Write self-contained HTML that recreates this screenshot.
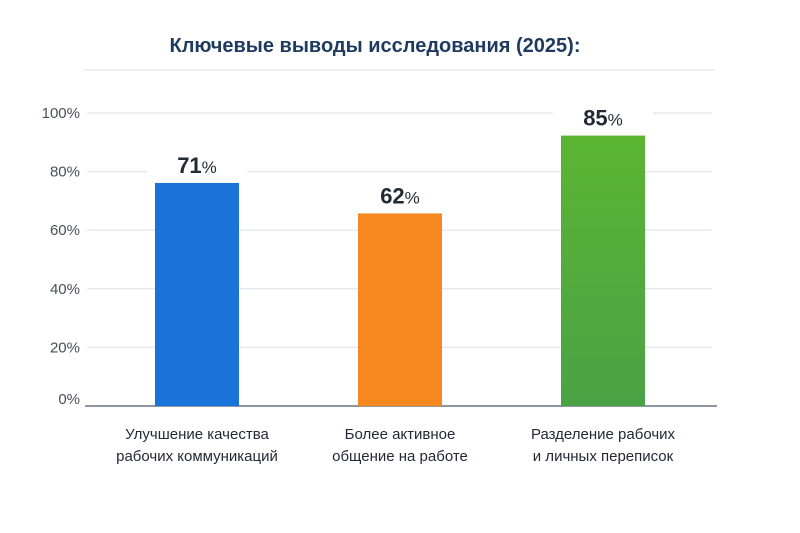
<!DOCTYPE html>
<html><head><meta charset="utf-8"><style>
body{margin:0;background:#fff;}
svg{display:block;font-family:"Liberation Sans","DejaVu Sans",sans-serif;}
</style></head><body>
<svg width="800" height="533" viewBox="0 0 800 533">
<defs><linearGradient id="gG" x1="0" y1="0" x2="0" y2="1"><stop offset="0" stop-color="#5bb532"/><stop offset="1" stop-color="#4aa245"/></linearGradient></defs>
<rect width="800" height="533" fill="#fff"/>
<text x="375" y="52" text-anchor="middle" font-size="20" font-weight="bold" fill="#1f3a5f">Ключевые выводы исследования (2025):</text>
<line x1="83" y1="70" x2="715" y2="70" stroke="#e8ebef" stroke-width="1.5"/>
<g id="grid"></g><g id="bars"></g><g id="labels"></g>
</svg>
<script>
const categories = [["Улучшение качества","рабочих коммуникаций"],["Более активное","общение на работе"],["Разделение рабочих","и личных переписок"]];
const values = [71, 62, 85];
const tickValues = [0, 20, 40, 60, 80, 100];
const tickLabels = ["0%","20%","40%","60%","80%","100%"];
const colors = ["#1a73d9","#f7871f","url(#gG)"];
const NS="http://www.w3.org/2000/svg";
function mk(t,a,p){const e=document.createElementNS(NS,t);for(const k in a)e.setAttribute(k,a[k]);p.appendChild(e);return e;}
const base=406;
function yAxis(v){return base-v*(406-113)/100;}
function yBar(v){return base-(v*3.385-17.3);}
function xCenter(i){return 197+i*203;}
const grid=document.getElementById('grid'),bars=document.getElementById('bars'),labels=document.getElementById('labels');
tickValues.forEach((v,i)=>{
  const y=yAxis(v);
  if(v>0){const l=mk('line',{x1:87,y1:y,x2:712,y2:y,stroke:'#e6e9ed','stroke-width':1.5},grid);
  
  }
  const t=mk('text',{x:80,y:(v===0?y-2:y+5),'text-anchor':'end','font-size':15,fill:'#4a4f57'},grid);
  t.textContent=tickLabels[i];
  
  
});
const ax=mk('line',{x1:85,y1:base,x2:717,y2:base,stroke:'#6b7585','stroke-width':1.5},grid);


values.forEach((v,i)=>{
  const cx=xCenter(i),top=yBar(v);
  const r=mk('rect',{x:cx-42,y:top,width:84,height:base-top,fill:colors[i]},bars);
  
  
  const bg=mk('rect',{x:cx-50,y:top-36,width:100,height:30,fill:'#fff'},labels);
  
  
  const t=mk('text',{x:cx,y:top-10,'text-anchor':'middle','font-size':22,'font-weight':'bold',fill:'#222a35'},labels);
  
  
  const s1=mk('tspan',{},t);s1.textContent=String(v);
  const s2=mk('tspan',{'font-size':17,'font-weight':'normal'},t);s2.textContent='%';
  categories[i].forEach((line,j)=>{
    const c=mk('text',{x:cx,y:439+j*22,'text-anchor':'middle','font-size':15,fill:'#222a35'},labels);
    c.textContent=line;
    
    
  });
});
</script>
</body></html>
